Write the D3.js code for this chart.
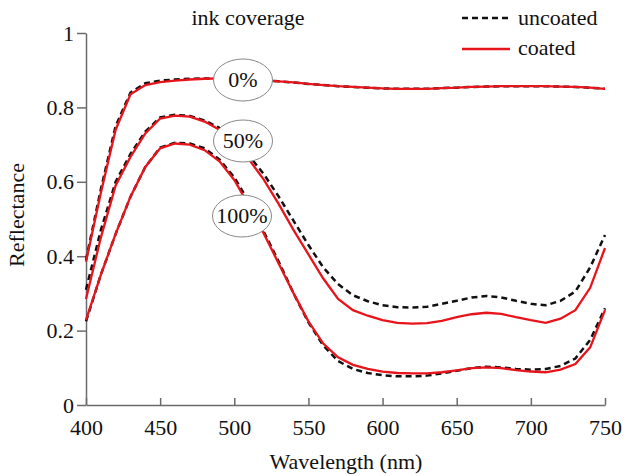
<!DOCTYPE html>
<html><head><meta charset="utf-8">
<script src="https://cdn.jsdelivr.net/npm/d3@7"></script>
<style>body{margin:0;background:#fff} svg text{font-family:"Liberation Serif","Times New Roman",Times,"DejaVu Serif",serif !important;}</style>
</head><body>
<svg id="c" width="625" height="476"></svg>
<script>
const wavelengths = d3.range(400, 751, 10);
const xTicks = [400, 450, 500, 550, 600, 650, 700, 750];
const yTicks = [0, 0.2, 0.4, 0.6, 0.8, 1];
const coverageLabels = ["0%", "50%", "100%"];
const legendLabels = ["uncoated", "coated"];

const uncoated0 = [0.39,0.58,0.75,0.84,0.865,0.872,0.875,0.877,0.878,0.878,0.877,0.875,0.873,0.870,0.867,0.863,0.860,0.857,0.855,0.853,0.851,0.850,0.850,0.850,0.852,0.853,0.855,0.856,0.857,0.857,0.857,0.857,0.856,0.855,0.853,0.850];
const coated0 = [0.385,0.57,0.74,0.835,0.86,0.868,0.872,0.875,0.877,0.878,0.877,0.875,0.873,0.870,0.867,0.863,0.860,0.857,0.855,0.853,0.851,0.850,0.850,0.850,0.852,0.853,0.855,0.856,0.857,0.857,0.857,0.857,0.856,0.855,0.853,0.850];
const uncoated50 = [0.31,0.47,0.60,0.675,0.735,0.773,0.780,0.777,0.765,0.745,0.712,0.670,0.620,0.560,0.495,0.430,0.370,0.325,0.295,0.279,0.268,0.263,0.262,0.264,0.272,0.280,0.289,0.293,0.289,0.280,0.272,0.268,0.280,0.305,0.370,0.457];
const coated50 = [0.285,0.45,0.59,0.667,0.73,0.770,0.778,0.775,0.762,0.740,0.705,0.660,0.605,0.540,0.470,0.405,0.340,0.285,0.255,0.240,0.228,0.221,0.219,0.220,0.226,0.236,0.244,0.248,0.245,0.236,0.228,0.221,0.232,0.255,0.315,0.422];
const uncoated100 = [0.225,0.35,0.46,0.56,0.64,0.692,0.705,0.703,0.690,0.660,0.612,0.545,0.465,0.385,0.300,0.222,0.160,0.118,0.097,0.086,0.080,0.077,0.077,0.079,0.085,0.092,0.099,0.103,0.101,0.097,0.095,0.097,0.105,0.125,0.175,0.260];
const coated100 = [0.228,0.35,0.46,0.56,0.64,0.690,0.703,0.700,0.685,0.655,0.605,0.535,0.460,0.380,0.300,0.225,0.165,0.128,0.108,0.097,0.090,0.086,0.085,0.085,0.088,0.093,0.099,0.101,0.099,0.094,0.090,0.088,0.095,0.110,0.155,0.255];

const uncoatedSeries = [uncoated0, uncoated50, uncoated100];
const coatedSeries = [coated0, coated50, coated100];

const svg = d3.select("#c");
const font = "Liberation Serif";
const x = d3.scaleLinear().domain([400, 750]).range([86, 605]);
const y = d3.scaleLinear().domain([0, 1]).range([405, 33]);
const axisColor = "#6b6b6b";

// x axis
const gx = svg.append("g").attr("transform", `translate(0,${y(0)})`)
  .call(d3.axisBottom(x).tickValues(xTicks).tickSizeInner(-7).tickSizeOuter(0).tickPadding(14).tickFormat(d3.format("d")));
gx.select(".domain").attr("stroke", axisColor).attr("stroke-width", 1.5);
gx.selectAll(".tick line").attr("stroke", axisColor).attr("stroke-width", 1.5);
gx.selectAll("text").attr("font-family", font).attr("font-size", 22).attr("fill", "#111");

// y axis
const gy = svg.append("g").attr("transform", `translate(${x(400)},0)`)
  .call(d3.axisLeft(y).tickValues(yTicks).tickSizeInner(9).tickSizeOuter(0).tickPadding(3).tickFormat(d => d === 0 || d === 1 ? d3.format("d")(d) : d3.format(".1f")(d)));
gy.select(".domain").attr("stroke", axisColor).attr("stroke-width", 1.5);
gy.selectAll(".tick line").attr("stroke", axisColor).attr("stroke-width", 1.5);
gy.selectAll("text").attr("font-family", font).attr("font-size", 22).attr("fill", "#111");

const line = d3.line().x((d, i) => x(wavelengths[i])).y(d => y(d));

uncoatedSeries.forEach(s => {
  svg.append("path").attr("d", line(s)).attr("fill", "none")
    .attr("stroke", "#111").attr("stroke-width", 2.5).attr("stroke-dasharray", "6,4");
});
coatedSeries.forEach(s => {
  svg.append("path").attr("d", line(s)).attr("fill", "none")
    .attr("stroke", "#e8141b").attr("stroke-width", 2.3);
});

// coverage labels
const labelPos = [[243, 80], [243, 141], [242, 216]];
coverageLabels.forEach((t, i) => {
  const [cx, cy] = labelPos[i];
  svg.append("ellipse").attr("cx", cx).attr("cy", cy).attr("rx", 29.5).attr("ry", 21)
    .attr("fill", "#fff").attr("stroke", "#888").attr("stroke-width", 1);
  svg.append("text").attr("x", cx).attr("y", cy + 7).attr("text-anchor", "middle")
    .attr("font-family", font).attr("font-size", 22).attr("fill", "#111").text(t);
});

// title
svg.append("text").attr("x", 248).attr("y", 25).attr("text-anchor", "middle")
  .attr("font-family", font).attr("font-size", 22).attr("fill", "#111").text("ink coverage");

// legend
const lg = svg.append("g");
lg.append("line").attr("x1", 462).attr("x2", 510).attr("y1", 18).attr("y2", 18)
  .attr("stroke", "#111").attr("stroke-width", 2.5).attr("stroke-dasharray", "6,4");
lg.append("line").attr("x1", 462).attr("x2", 510).attr("y1", 49).attr("y2", 49)
  .attr("stroke", "#e8141b").attr("stroke-width", 2.5);
legendLabels.forEach((t, i) => {
  lg.append("text").attr("x", 518).attr("y", 25 + i * 30).attr("font-family", font)
    .attr("font-size", 22).attr("fill", "#111").text(t);
});

// axis titles
svg.append("text").attr("x", 346).attr("y", 469).attr("text-anchor", "middle")
  .attr("font-family", font).attr("font-size", 22).attr("fill", "#111").text("Wavelength (nm)");
svg.append("text").attr("transform", "translate(24,215) rotate(-90)").attr("text-anchor", "middle")
  .attr("font-family", font).attr("font-size", 22).attr("fill", "#111").text("Reflectance");
</script>
</body></html>
